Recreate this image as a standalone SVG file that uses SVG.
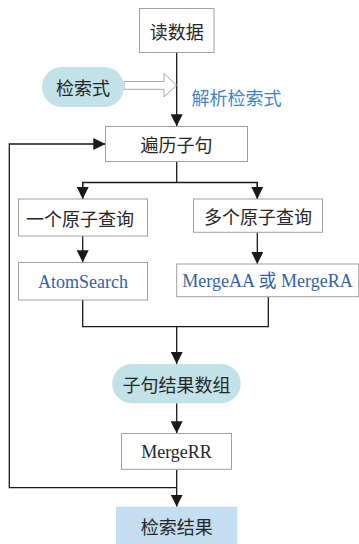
<svg xmlns="http://www.w3.org/2000/svg" width="359" height="544" viewBox="0 0 359 544">
  <defs>
    <marker id="arrow" markerUnits="userSpaceOnUse" markerWidth="12" markerHeight="12" refX="12" refY="6" orient="auto">
      <path d="M0,0 L12,6 L0,12 z" fill="#1a1a1a"/>
    </marker>
    <style>
      .box { fill: #ffffff; stroke: #a0a0a0; stroke-width: 1; }
      .pill { fill: #c2e2e8; stroke: none; }
      .result { fill: #c4ddf1; stroke: none; }
      .cn { font-family: "Noto Sans CJK SC", sans-serif; font-size: 18px; fill: #262626; text-anchor: middle; dominant-baseline: central; }
      .en { font-family: "Liberation Serif", "Noto Sans CJK SC", serif; font-size: 18px; text-anchor: middle; dominant-baseline: central; }
      .blue { fill: #2f63a6; }
      .dark { fill: #262626; }
      .note { font-family: "Noto Sans CJK SC", sans-serif; font-size: 18px; fill: #3d86c6; dominant-baseline: central; }
      .link { fill: none; stroke: #1a1a1a; stroke-width: 1.3; }
    </style>
  </defs>

  <!-- connectors -->
  <g id="connectors">
    <line class="link" x1="176.7" y1="52.5" x2="176.7" y2="126.3" marker-end="url(#arrow)"/>
    <polygon points="124,81.5 164,81.5 164,73.5 176.5,85.2 164,97 164,89.3 124,89.3" fill="#ffffff" stroke="#a8a8a8" stroke-width="1"/>
    <polyline class="link" points="176.7,161.3 176.7,182.5"/>
    <polyline class="link" points="82.7,199 82.7,182.5 257.3,182.5 257.3,199"/>
    <line class="link" x1="82.7" y1="182.5" x2="82.7" y2="199" marker-end="url(#arrow)"/>
    <line class="link" x1="257.3" y1="182.5" x2="257.3" y2="199" marker-end="url(#arrow)"/>
    <line class="link" x1="82.7" y1="236" x2="82.7" y2="262.3" marker-end="url(#arrow)"/>
    <line class="link" x1="257.3" y1="232.3" x2="257.3" y2="264" marker-end="url(#arrow)"/>
    <polyline class="link" points="82.7,300 82.7,326.7 268.3,326.7 268.3,296.7"/>
    <line class="link" x1="176.7" y1="326.7" x2="176.7" y2="364" marker-end="url(#arrow)"/>
    <line class="link" x1="176.7" y1="403.3" x2="176.7" y2="433.3" marker-end="url(#arrow)"/>
    <line class="link" x1="176.7" y1="469.3" x2="176.7" y2="506.7" marker-end="url(#arrow)"/>
    <polyline class="link" points="176.7,487.7 9.3,487.7 9.3,144 105.3,144" marker-end="url(#arrow)"/>
    <text class="note" x="191.5" y="97">解析检索式</text>
  </g>

  <g id="read-data">
    <rect class="box" x="139.5" y="8.5" width="74.5" height="44"/>
    <text class="cn" x="176.7" y="30.5">读数据</text>
  </g>

  <g id="query-expr">
    <rect class="pill" x="42" y="67" width="82" height="40" rx="20"/>
    <text class="cn" x="83" y="87">检索式</text>
  </g>

  <g id="traverse">
    <rect class="box" x="105.5" y="126.5" width="142" height="35"/>
    <text class="cn" x="176.5" y="144">遍历子句</text>
  </g>

  <g id="single-atom">
    <rect class="box" x="18.5" y="199" width="129" height="37"/>
    <text class="cn" x="80" y="217.5">一个原子查询</text>
  </g>

  <g id="multi-atom">
    <rect class="box" x="193.5" y="199" width="129" height="33.3"/>
    <text class="cn" x="258" y="216">多个原子查询</text>
  </g>

  <g id="atom-search">
    <rect class="box" x="18.5" y="262.5" width="129" height="37.5"/>
    <text class="en blue" x="83" y="281.5">AtomSearch</text>
  </g>

  <g id="merge-aa-ra">
    <rect class="box" x="176.7" y="264" width="182" height="32.7"/>
    <text class="en blue" x="267.5" y="280.5">MergeAA 或 MergeRA</text>
  </g>

  <g id="clause-results">
    <rect class="pill" x="112.3" y="364" width="128.4" height="39.3" rx="19.6"/>
    <text class="cn" x="176.5" y="384">子句结果数组</text>
  </g>

  <g id="merge-rr">
    <rect class="box" x="121.5" y="433.5" width="110" height="35.8"/>
    <text class="en dark" x="176.5" y="451.5">MergeRR</text>
  </g>

  <g id="search-result">
    <rect class="result" x="116" y="506.7" width="121.3" height="37.3"/>
    <text class="cn" x="176.7" y="526">检索结果</text>
  </g>
</svg>
